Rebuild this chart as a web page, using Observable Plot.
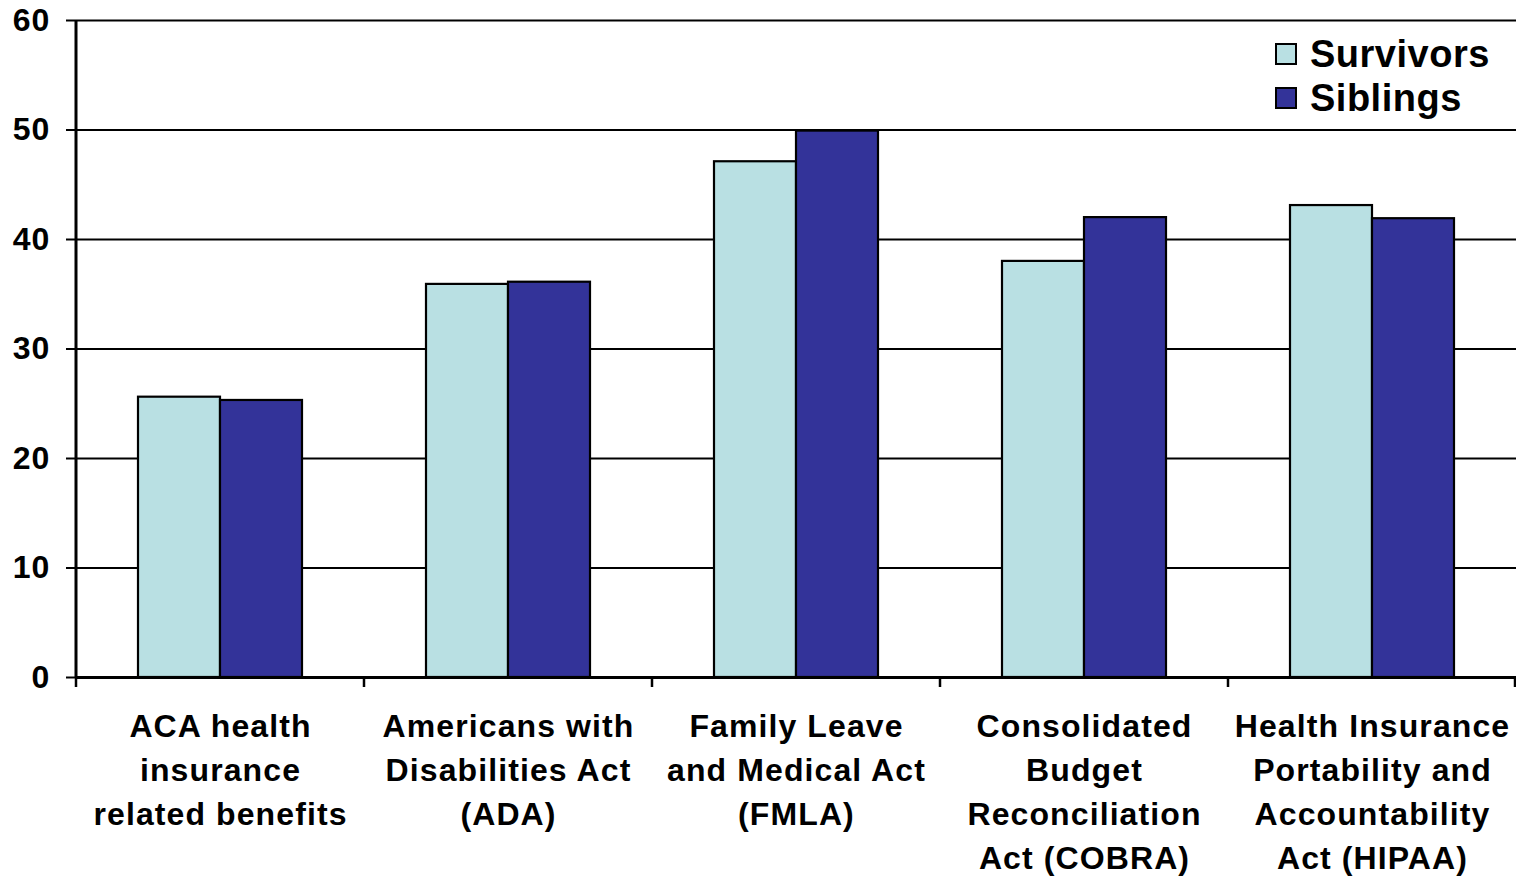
<!DOCTYPE html>
<html>
<head>
<meta charset="utf-8">
<script src="https://cdn.jsdelivr.net/npm/d3@7"></script>
<script src="https://cdn.jsdelivr.net/npm/@observablehq/plot@0.6"></script>
<style>
  html, body { margin: 0; padding: 0; background: #fff; }
  #wrap { position: relative; width: 1516px; height: 876px; font-family: "Liberation Sans", Arial, sans-serif; }
  #wrap svg text { letter-spacing: 1.1px; }
  .legend { position: absolute; left: 1275px; top: 32px; font-weight: bold; font-size: 38px; letter-spacing: 0.5px; color: #000; }
  .legend .row { display: flex; align-items: center; height: 44px; }
  .legend .sw { width: 18px; height: 18px; border: 2px solid #000; margin-right: 13px; }
</style>
</head>
<body>
<div id="wrap"></div>
<script>
// Category labels (line breaks as printed under each group)
const categories = [
  "ACA health\ninsurance\nrelated benefits",
  "Americans with\nDisabilities Act\n(ADA)",
  "Family Leave\nand Medical Act\n(FMLA)",
  "Consolidated\nBudget\nReconciliation\nAct (COBRA)",
  "Health Insurance\nPortability and\nAccountability\nAct (HIPAA)"
];
const seriesNames = ["Survivors", "Siblings"];
const seriesColors = ["#B9E0E3", "#333399"];
const survivors = [25.6, 35.9, 47.1, 38.0, 43.1];
const siblings = [25.3, 36.1, 49.9, 42.0, 41.9];
const yTicks = [0, 10, 20, 30, 40, 50, 60];

// Long table for the grouped bars
const rows = [];
categories.forEach((c, i) => {
  rows.push({category: c, series: seriesNames[0], value: survivors[i]});
  rows.push({category: c, series: seriesNames[1], value: siblings[i]});
});

const chart = Plot.plot({
  width: 1516,
  height: 876,
  marginLeft: 75,
  marginRight: 0,
  marginTop: 20,
  marginBottom: 199,
  style: {fontFamily: "'Liberation Sans', Arial, sans-serif", background: "#fff", color: "#000"},
  fx: {domain: categories, padding: 0, label: null},
  x: {domain: seriesNames, paddingInner: 0, paddingOuter: 0.735, axis: null},
  y: {domain: [0, 60], label: null},
  color: {domain: seriesNames, range: seriesColors},
  marks: [
    Plot.gridY(yTicks, {stroke: "#000", strokeOpacity: 1, strokeWidth: 2.2}),
    Plot.barY(rows, {fx: "category", x: "series", y: "value", fill: "series", stroke: "#000", strokeWidth: 2.2}),
    Plot.ruleY([0], {stroke: "#000", strokeWidth: 3}),
    Plot.axisY(yTicks, {tickSize: 10, tickPadding: 16, fontSize: 32, fontWeight: "bold", fill: "#000", stroke: "#000", strokeWidth: 2, label: null}),
    Plot.axisFx({anchor: "bottom", tickSize: 0, tickPadding: 28, fontSize: 32, fontWeight: "bold", fill: "#000", lineHeight: 1.375, label: null})
  ]
});

// Left axis line and the short ticks at the group boundaries
const fx = chart.scale("fx");
const y = chart.scale("y");
const svg = d3.select(chart);
const y0 = y.apply(0);
const x0 = fx.apply(categories[0]);
svg.append("line")
  .attr("x1", x0).attr("x2", x0)
  .attr("y1", y.apply(60)).attr("y2", y0)
  .attr("stroke", "#000").attr("stroke-width", 3);
const bounds = categories.map(c => fx.apply(c)).concat([fx.apply(categories[categories.length - 1]) + fx.bandwidth]);
svg.append("g").selectAll("line").data(bounds).join("line")
  .attr("x1", d => Math.min(d, 1515)).attr("x2", d => Math.min(d, 1515))
  .attr("y1", y0).attr("y2", y0 + 10)
  .attr("stroke", "#000").attr("stroke-width", 2.5);

const wrap = document.getElementById("wrap");
wrap.appendChild(chart);

// Legend in the upper right corner of the plot area
const legend = document.createElement("div");
legend.className = "legend";
seriesNames.forEach((name, i) => {
  const row = document.createElement("div");
  row.className = "row";
  const sw = document.createElement("span");
  sw.className = "sw";
  sw.style.background = seriesColors[i];
  const label = document.createElement("span");
  label.textContent = name;
  row.appendChild(sw);
  row.appendChild(label);
  legend.appendChild(row);
});
wrap.appendChild(legend);
</script>
</body>
</html>
